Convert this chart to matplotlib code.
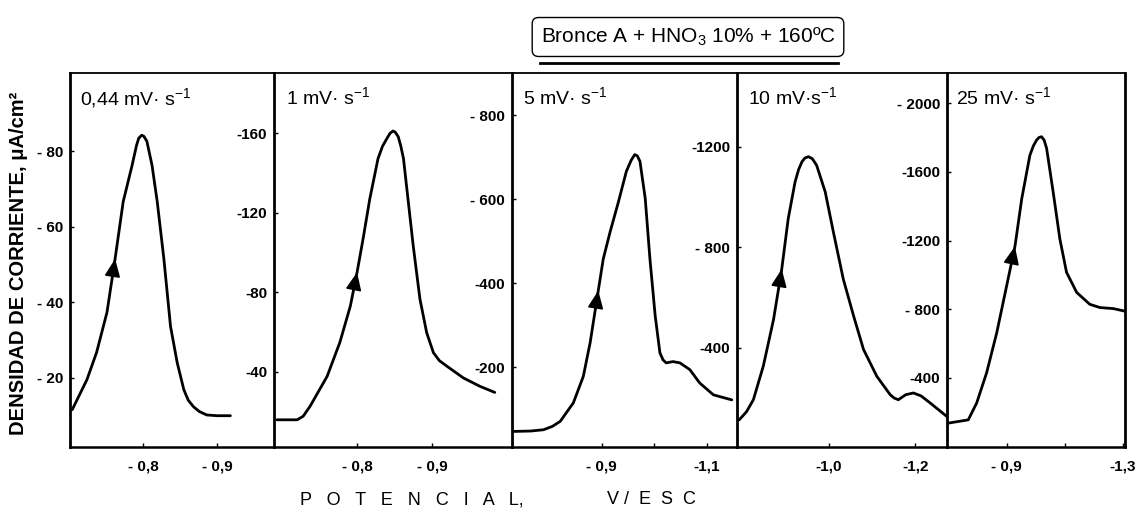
import numpy as np
import matplotlib
matplotlib.use('Agg')

import matplotlib.pyplot as plt
from matplotlib.lines import Line2D

plt.rcParams['font.family'] = ['Liberation Sans', 'DejaVu Sans']
plt.rcParams['mathtext.fontset'] = 'custom'
plt.rcParams['mathtext.rm'] = 'Liberation Sans'
plt.rcParams['mathtext.it'] = 'Liberation Sans:italic'
plt.rcParams['mathtext.bf'] = 'Liberation Sans:bold'

rates = ['0,44 mV· s$^{-1}$', '1 mV· s$^{-1}$', '5 mV· s$^{-1}$',
         '10 mV·s$^{-1}$', '25 mV· s$^{-1}$']

# potencial (V/ESC) y densidad de corriente (uA/cm2)
e1 = [-0.704, -0.724, -0.737, -0.751, -0.762, -0.773, -0.785, -0.791, -0.794,
      -0.798, -0.801, -0.805, -0.812, -0.819, -0.828, -0.837, -0.846, -0.855,
      -0.861, -0.868, -0.876, -0.886, -0.900, -0.918]
i1 = [-11.5, -19.5, -26.7, -37.3, -51.5, -66.7, -76.3, -81.6, -83.5,
      -84.3, -84.0, -82.7, -76.3, -66.7, -51.5, -33.6, -24.0, -16.8,
      -14.0, -12.3, -11.0, -10.1, -9.9, -9.9]

e2 = [-0.693, -0.720, -0.728, -0.737, -0.760, -0.777, -0.791, -0.800, -0.808,
      -0.817, -0.828, -0.834, -0.840, -0.844, -0.848, -0.851, -0.855, -0.8585,
      -0.862, -0.868, -0.875, -0.884, -0.893, -0.902, -0.910, -0.920, -0.942,
      -0.964, -0.984]
i2 = [-15.7, -15.7, -17.5, -22.4, -37.6, -54.7, -73.0, -90.0, -106.8,
      -127.0, -147.3, -153.5, -157.5, -160.0, -161.2, -160.6, -158.3, -153.5,
      -147.3, -127.0, -103.4, -76.5, -59.6, -49.5, -45.5, -42.7, -36.8,
      -32.6, -29.5]

e3 = [-0.732, -0.765, -0.789, -0.806, -0.821, -0.846, -0.865, -0.878, -0.891,
      -0.903, -0.916, -0.932, -0.947, -0.956, -0.963, -0.968, -0.973, -0.983,
      -0.992, -1.002, -1.011, -1.017, -1.023, -1.036, -1.049, -1.068, -1.087,
      -1.113, -1.148]
i3 = [-48, -49, -52, -60, -72, -116, -179, -259, -363,
      -458, -522, -594, -666, -692, -706, -703, -690, -602,
      -458, -323, -235, -218, -211, -214, -211, -195, -163,
      -135, -123]

e4 = [-0.791, -0.808, -0.824, -0.847, -0.871, -0.890, -0.905, -0.921, -0.929,
      -0.937, -0.944, -0.952, -0.961, -0.971, -0.991, -1.010, -1.033, -1.057,
      -1.080, -1.111, -1.142, -1.151, -1.161, -1.178, -1.196, -1.214, -1.235,
      -1.274]
i4 = [-113, -145, -193, -326, -513, -713, -913, -1060, -1108,
      -1140, -1155, -1160, -1152, -1126, -1020, -860, -673, -526,
      -393, -286, -213, -200, -193, -213, -220, -208, -180,
      -126]

e5 = [-0.699, -0.768, -0.797, -0.831, -0.866, -0.900, -0.929, -0.952, -0.980,
      -0.992, -1.003, -1.011, -1.020, -1.029, -1.0375, -1.060, -1.083, -1.106,
      -1.141, -1.186, -1.221, -1.267, -1.304]
i5 = [-137, -156, -254, -429, -663, -936, -1170, -1444, -1697,
      -1752, -1785, -1800, -1805, -1785, -1737, -1483, -1210, -1015,
      -898, -829, -810, -804, -790]

potentials = [e1, e2, e3, e4, e5]
currents = [i1, i2, i3, i4, i5]

# punta de la flecha sobre la rama de subida
arrow_e = [-0.762, -0.800, -0.8935, -0.890, -0.9285]

x_lims = [(-0.701, -0.977), (-0.689, -1.007), (-0.729, -1.158),
          (-0.786, -1.274), (-0.695, -1.307)]
y_lims = [(-1.6, -100.8), (-2, -190.4), (-11, -900), (-5, -1493), (2, -2176)]

x_ticks = [[-0.8, -0.9], [-0.8, -0.9], [-0.9, -1.0, -1.1],
           [-1.0, -1.2], [-0.9, -1.1, -1.3]]
x_labels = [['- 0,8', '- 0,9'], ['- 0,8', '- 0,9'], ['- 0,9', '', '-1,1'],
            ['-1,0', '-1,2'], ['- 0,9', '', '-1,3']]
y_ticks = [[-20, -40, -60, -80], [-40, -80, -120, -160],
           [-200, -400, -600, -800], [-400, -800, -1200],
           [-400, -800, -1200, -1600, -2000]]
y_labels = [['- 20', '- 40', '- 60', '- 80'], ['-40', '-80', '-120', '-160'],
            ['-200', '-400', '- 600', '- 800'], ['-400', '- 800', '-1200'],
            ['-400', '- 800', '-1200', '-1600', '- 2000']]

W, H = 1146, 517
edges = [70, 274, 512, 737, 947, 1125]
top, bot = 73, 447

fig = plt.figure(figsize=(W / 100, H / 100), dpi=100)

for k in range(5):
    ax = fig.add_axes([edges[k] / W, 1 - bot / H,
                       (edges[k + 1] - edges[k]) / W, (bot - top) / H])
    ax.set_facecolor('none')
    e = np.array(potentials[k])
    j = np.array(currents[k])
    ax.plot(e, j, color='black', lw=2.0, solid_capstyle='round',
            solid_joinstyle='round')

    # flecha: sentido del barrido
    tip_y = np.interp(-arrow_e[k], -e, j)
    tail_e = arrow_e[k] + 0.004 * (x_lims[k][0] - x_lims[k][1]) / 0.28
    tail_y = np.interp(-tail_e, -e, j)
    ax.annotate('', xy=(arrow_e[k], tip_y), xytext=(tail_e, tail_y),
                arrowprops=dict(arrowstyle='-|>,head_length=0.5,head_width=0.22',
                                color='black', lw=1.2, mutation_scale=22,
                                shrinkA=0, shrinkB=0))

    ax.set_xlim(*x_lims[k])
    ax.set_ylim(*y_lims[k])
    ax.set_xticks(x_ticks[k])
    ax.set_xticklabels(x_labels[k], fontsize=11, fontweight='bold')
    ax.set_yticks(y_ticks[k])
    ax.set_yticklabels(y_labels[k], fontsize=11, fontweight='bold')
    ax.tick_params(direction='in', length=3, width=1, pad=5)
    ax.tick_params(axis='x', pad=9)

    ax.spines['left'].set_linewidth(2.0)
    ax.spines['bottom'].set_linewidth(1.8)
    ax.spines['top'].set_linewidth(1.3)
    if k < 4:
        ax.spines['right'].set_visible(False)
    else:
        ax.spines['right'].set_linewidth(2.0)

    ax.text(0.05, 0.965, rates[k], transform=ax.transAxes, ha='left', va='top',
            fontsize=14)

fig.text(19 / W, 1 - 263 / H, 'DENSIDAD DE CORRIENTE, μA/cm²', rotation=90,
         ha='center', va='center', fontsize=14.5, fontweight='bold')

fig.text(412 / W, 1 - 500 / H, 'P   O   T   E   N   C   I   A   L,',
         ha='center', va='center', fontsize=13)
fig.text(651 / W, 1 - 500 / H, 'V /  E  S  C', ha='center', va='center',
         fontsize=13)

fig.text(688 / W, 1 - 37 / H, 'Bronce A + HNO$_3$ 10% + 160ºC',
         ha='center', va='center', fontsize=15,
         bbox=dict(boxstyle='round,pad=0.4,rounding_size=0.3',
                   fc='white', ec='black', lw=1.0))
fig.add_artist(Line2D([540 / W, 838 / W], [1 - 63 / H, 1 - 63 / H],
                      color='black', lw=2.0, transform=fig.transFigure))

fig.savefig('out.png', dpi=100)
